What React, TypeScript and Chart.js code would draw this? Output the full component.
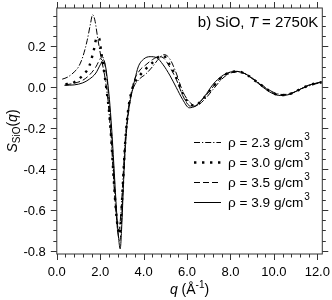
import React, { useEffect, useRef } from 'react';
import { Chart, registerables } from 'chart.js';
Chart.register(...registerables);

const FONT = '"Liberation Sans", Arial, Helvetica, sans-serif';

// rho = 2.3 g/cm3 (dash-dot)
const q23 = [0.25,0.5,0.8,1.0,1.2,1.4,1.55,1.65,1.75,1.9,2.05,2.2,2.35,2.5,2.6,2.7,2.8,2.86,2.95,3.05,3.15,3.3,3.5,3.8,4.1,4.4,4.7,4.95,5.2,5.5,5.8,6.1,6.4,6.8,7.2,7.6,8.0,8.4,8.8,9.2,9.6,10.0,10.4,10.8,11.2,11.7,12.2];
const s23 = [0.04,0.05,0.075,0.10,0.15,0.23,0.31,0.355,0.33,0.23,0.14,0.06,-0.06,-0.25,-0.42,-0.58,-0.68,-0.70,-0.62,-0.44,-0.26,-0.10,-0.01,0.04,0.065,0.10,0.14,0.16,0.14,0.07,-0.02,-0.07,-0.09,-0.06,-0.01,0.04,0.07,0.075,0.06,0.03,0.0,-0.025,-0.035,-0.03,-0.01,0.01,0.025];

// rho = 3.0 g/cm3 (dotted)
const q30 = [0.4,0.7,1.0,1.3,1.5,1.7,1.85,1.95,2.05,2.2,2.3,2.4,2.5,2.6,2.7,2.8,2.88,2.96,3.05,3.15,3.3,3.5,3.8,4.1,4.4,4.7,4.9,5.2,5.5,5.8,6.1,6.35,6.7,7.1,7.5,7.9,8.3,8.7,9.1,9.5,9.9,10.3,10.7,11.1,11.6,12.2];
const s30 = [0.015,0.02,0.04,0.07,0.105,0.18,0.245,0.24,0.17,0.06,-0.02,-0.11,-0.24,-0.41,-0.57,-0.68,-0.72,-0.64,-0.46,-0.27,-0.10,0.0,0.055,0.09,0.12,0.15,0.155,0.11,0.05,-0.03,-0.08,-0.09,-0.06,-0.01,0.04,0.07,0.078,0.065,0.035,0.005,-0.025,-0.038,-0.033,-0.015,0.01,0.025];

// rho = 3.5 g/cm3 (dashed)
const q35 = [0.4,0.8,1.2,1.5,1.8,2.0,2.1,2.2,2.3,2.4,2.5,2.6,2.7,2.8,2.9,2.97,3.05,3.15,3.3,3.5,3.8,4.1,4.4,4.7,4.9,5.2,5.5,5.8,6.1,6.3,6.7,7.1,7.5,7.9,8.3,8.7,9.1,9.5,9.9,10.3,10.7,11.1,11.6,12.2];
const s35 = [0.012,0.02,0.035,0.06,0.10,0.14,0.15,0.12,0.05,-0.06,-0.20,-0.38,-0.56,-0.70,-0.75,-0.68,-0.50,-0.30,-0.12,0.01,0.08,0.11,0.135,0.15,0.145,0.10,0.04,-0.04,-0.09,-0.095,-0.06,-0.01,0.04,0.07,0.078,0.065,0.035,0.005,-0.025,-0.038,-0.033,-0.015,0.01,0.025];

// rho = 3.9 g/cm3 (solid)
const q39 = [0.35,0.8,1.2,1.5,1.8,2.0,2.15,2.25,2.35,2.45,2.55,2.65,2.75,2.85,2.92,3.0,3.08,3.18,3.3,3.45,3.6,3.75,4.0,4.3,4.6,4.9,5.2,5.5,5.8,6.1,6.4,6.8,7.2,7.6,8.0,8.3,8.7,9.1,9.5,9.9,10.3,10.7,11.1,11.6,12.2];
const s39 = [0.01,0.012,0.022,0.04,0.07,0.11,0.135,0.10,0.02,-0.09,-0.24,-0.42,-0.60,-0.74,-0.79,-0.66,-0.45,-0.24,-0.12,-0.03,0.04,0.10,0.138,0.15,0.145,0.11,0.06,0.0,-0.06,-0.10,-0.09,-0.045,0.015,0.055,0.075,0.078,0.065,0.035,0.0,-0.028,-0.04,-0.035,-0.015,0.01,0.027];

const seriesLabels = ['ρ = 2.3 g/cm', 'ρ = 3.0 g/cm', 'ρ = 3.5 g/cm', 'ρ = 3.9 g/cm'];
const seriesSup = '3';

const xTickValues = [0, 2, 4, 6, 8, 10, 12];
const xTickLabels = ['0.0', '2.0', '4.0', '6.0', '8.0', '10.0', '12.0'];
const yTickValues = [-0.8, -0.6, -0.4, -0.2, 0.0, 0.2];
const yTickLabels = ['-0.8', '-0.6', '-0.4', '-0.2', '0.0', '0.2'];
const xMinorStep = 0.4;
const yMinorStep = 0.05;

const X_MIN = 0, X_MAX = 12.23, Y_MIN = -0.815, Y_MAX = 0.388;

const zip = (q: number[], s: number[]) => q.slice(0, Math.min(q.length, s.length)).map((x, i) => ({ x, y: s[i] }));

const dashStyles = [
  { dash: [6, 2, 1.2, 2], width: 1 },
  { dash: [2.4, 5.6], width: 2.4 },
  { dash: [6, 3], width: 1 },
  { dash: [] as number[], width: 1 },
];

const framePlugin = {
  id: 'framePlugin',
  afterDraw(chart: any) {
    const { ctx, chartArea: a, scales } = chart;
    const xs = scales.x, ys = scales.y;
    ctx.save();
    ctx.strokeStyle = '#333';
    ctx.lineWidth = 1;
    ctx.strokeRect(a.left, a.top, a.right - a.left, a.bottom - a.top);
    const MAJ = 6, MIN = 3.5;
    ctx.beginPath();
    for (let v = X_MIN; v <= X_MAX + 1e-9; v += xMinorStep) {
      const vv = Math.round(v * 100) / 100;
      const isMaj = xTickValues.some(t => Math.abs(t - vv) < 1e-6);
      const L = isMaj ? MAJ : MIN;
      const px = Math.round(xs.getPixelForValue(vv)) + 0.5;
      ctx.moveTo(px, a.bottom); ctx.lineTo(px, a.bottom + L);
      ctx.moveTo(px, a.top); ctx.lineTo(px, a.top - L);
    }
    const start = Math.ceil(Y_MIN / yMinorStep) * yMinorStep;
    for (let v = start; v <= Y_MAX + 1e-9; v += yMinorStep) {
      const vv = Math.round(v * 1000) / 1000;
      const isMaj = yTickValues.some(t => Math.abs(t - vv) < 1e-6);
      const L = isMaj ? MAJ : MIN;
      const py = Math.round(ys.getPixelForValue(vv)) + 0.5;
      ctx.moveTo(a.left, py); ctx.lineTo(a.left - L, py);
      ctx.moveTo(a.right, py); ctx.lineTo(a.right + L, py);
    }
    ctx.stroke();

    ctx.fillStyle = '#000';
    ctx.font = `13px ${FONT}`;
    ctx.textAlign = 'center';
    ctx.textBaseline = 'alphabetic';
    xTickValues.forEach((v, i) => {
      ctx.fillText(xTickLabels[i], xs.getPixelForValue(v), 276);
    });
    ctx.textAlign = 'right';
    yTickValues.forEach((v, i) => {
      ctx.fillText(yTickLabels[i], a.left - 11, ys.getPixelForValue(v) + 4.8);
    });

    const drawParts = (parts: { t: string; f: string; dy: number }[], x0: number, y0: number, align: 'left' | 'center' | 'right') => {
      let w = 0;
      parts.forEach(p => { ctx.font = p.f; w += ctx.measureText(p.t).width; });
      let x = align === 'left' ? x0 : align === 'center' ? x0 - w / 2 : x0 - w;
      ctx.textAlign = 'left';
      parts.forEach(p => { ctx.font = p.f; ctx.fillText(p.t, x, y0 + p.dy); x += ctx.measureText(p.t).width; });
    };

    // x title
    drawParts([
      { t: 'q', f: `italic 14px ${FONT}`, dy: 0 },
      { t: ' (Å', f: `14px ${FONT}`, dy: 0 },
      { t: '-1', f: `10px ${FONT}`, dy: -6 },
      { t: ')', f: `14px ${FONT}`, dy: 0 },
    ], (a.left + a.right) / 2, 294, 'center');

    // y title
    ctx.save();
    ctx.translate(17, (a.top + a.bottom) / 2);
    ctx.rotate(-Math.PI / 2);
    drawParts([
      { t: 'S', f: `italic 14px ${FONT}`, dy: 0 },
      { t: 'SiO', f: `10px ${FONT}`, dy: 3 },
      { t: '(', f: `14px ${FONT}`, dy: 0 },
      { t: 'q', f: `italic 14px ${FONT}`, dy: 0 },
      { t: ')', f: `14px ${FONT}`, dy: 0 },
    ], 0, 0, 'center');
    ctx.restore();

    // annotation
    drawParts([
      { t: 'b) SiO, ', f: `15px ${FONT}`, dy: 0 },
      { t: 'T', f: `italic 15px ${FONT}`, dy: 0 },
      { t: ' = 2750K', f: `15px ${FONT}`, dy: 0 },
    ], a.right - 4, 26.8, 'right');

    // legend
    const rows = [142, 162, 182, 202];
    chart.data.datasets.forEach((ds: any, i: number) => {
      const y = rows[i];
      const st = dashStyles[i];
      ctx.save();
      ctx.strokeStyle = '#000';
      ctx.lineWidth = st.width;
      ctx.setLineDash(st.dash);
      ctx.beginPath();
      ctx.moveTo(194, y + 0.5); ctx.lineTo(221, y + 0.5);
      ctx.stroke();
      ctx.restore();
      ctx.font = `13.6px ${FONT}`;
      ctx.textAlign = 'left';
      ctx.fillText(seriesLabels[i], 228, y + 5);
      const w = ctx.measureText(seriesLabels[i]).width;
      ctx.font = `10px ${FONT}`;
      ctx.fillText(seriesSup, 228 + w + 0.8, y - 2.5);
    });
    ctx.restore();
  },
};

export default function App() {
  const ref = useRef<HTMLCanvasElement | null>(null);
  useEffect(() => {
    if (!ref.current) return;
    const series = [zip(q23, s23), zip(q30, s30), zip(q35, s35), zip(q39, s39)];
    const chart = new Chart(ref.current, {
      type: 'line',
      data: {
        datasets: series.map((d, i) => ({
          label: seriesLabels[i] + seriesSup,
          data: d,
          borderColor: '#000',
          borderWidth: dashStyles[i].width,
          borderDash: dashStyles[i].dash,
          borderCapStyle: 'butt',
          pointRadius: 0,
          fill: false,
          cubicInterpolationMode: 'monotone',
        })),
      },
      options: {
        responsive: false,
        animation: false,
        layout: { padding: { left: 56.8, top: 8, right: 9.7, bottom: 46 } },
        plugins: { legend: { display: false }, tooltip: { enabled: false } },
        scales: {
          x: { type: 'linear', min: X_MIN, max: X_MAX, display: false },
          y: { type: 'linear', min: Y_MIN, max: Y_MAX, display: false },
        },
      },
      plugins: [framePlugin],
    } as any);
    return () => chart.destroy();
  }, []);
  return (
    <div style={{ position: 'fixed', left: 0, top: 0, width: 332, height: 300, background: '#fff' }}>
      <canvas ref={ref} width={332} height={300} style={{ display: 'block', width: 332, height: 300 }} />
    </div>
  );
}
